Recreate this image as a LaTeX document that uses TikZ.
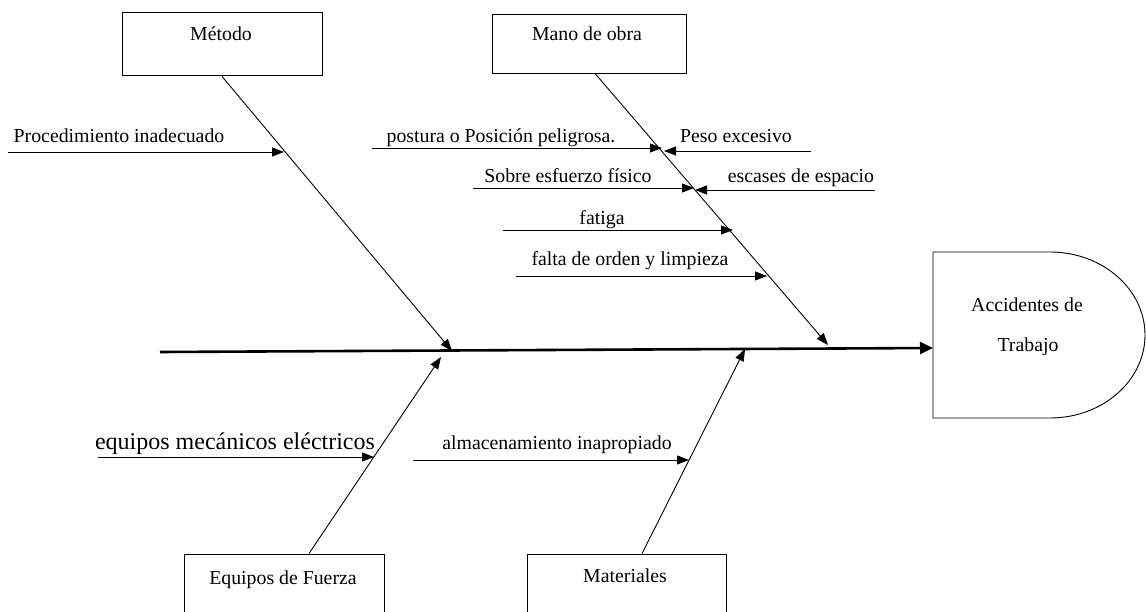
\documentclass[tikz,border=0pt]{standalone}
\usepackage{fontspec}
\setmainfont{Liberation Serif}
\usetikzlibrary{arrows.meta}
\begin{document}
\begin{tikzpicture}[x=1pt,y=-1pt,
  box/.style={draw,line width=0.9pt,rectangle,inner sep=0pt},
  lbl/.style={inner sep=0pt,anchor=base,font=\fontsize{19.8}{22}\selectfont},
  biglbl/.style={inner sep=0pt,anchor=base,font=\fontsize{24}{28}\selectfont},
  bone/.style={line width=0.9pt,-{Triangle[length=12pt,width=9pt]}},
  spine/.style={line width=2.6pt,-{Triangle[length=13pt,width=12pt]}}]
\useasboundingbox (0,0) rectangle (1146,612);
\clip (0,0) rectangle (1146,612);
% boxes
\node[box,minimum width=200pt,minimum height=63pt] (metodo) at (222,43.5) {};
\node[lbl] (metodoT) at (221,41) {Método};
\node[box,minimum width=194pt,minimum height=59pt] (mano) at (589,43.5) {};
\node[lbl] (manoT) at (587,41) {Mano de obra};
\node[box,minimum width=200pt,minimum height=80pt] (equipos) at (284,594) {};
\node[lbl] (equiposT) at (283,584) {Equipos de Fuerza};
\node[box,minimum width=199pt,minimum height=80pt] (mat) at (626.5,594) {};
\node[lbl] (matT) at (625,582) {Materiales};
% effect
\draw[line width=0.9pt] (933,252) coordinate (accA) -- (1050,252)
  arc[start angle=-90,end angle=90,x radius=95,y radius=83] -- (933,418) -- cycle;
\node[lbl] (acc1) at (1027,312) {Accidentes de};
\node[lbl] (acc2) at (1028,352) {Trabajo};
% coordinates
\coordinate (s0) at (160,352); \coordinate (s1) at (933,348);
\coordinate (m1) at (452,351);
\coordinate (n1) at (828,345);
\coordinate (e1) at (441,357);
\coordinate (t1) at (745,349);
\coordinate (pA) at (8,152);   \coordinate (pB) at (284,152);
\coordinate (qA) at (372,148); \coordinate (qB) at (662,148);
\coordinate (rA) at (811,151); \coordinate (rB) at (664,151);
\coordinate (uA) at (473,188); \coordinate (uB) at (694,188);
\coordinate (vA) at (875,190); \coordinate (vB) at (695,190);
\coordinate (wA) at (503,230); \coordinate (wB) at (733,230);
\coordinate (zA) at (516,276); \coordinate (zB) at (767,276);
\coordinate (kA) at (98,457);  \coordinate (kB) at (374,457);
\coordinate (lA) at (413,460); \coordinate (lB) at (689,460);
% spine and bones
\draw[spine] (s0) -- (s1);
\draw[bone] (metodo.south) ++(0,1) -- (m1);
\draw[bone] (mano.south) ++(6,0) -- (n1);
\draw[bone] (equipos.north) ++(25,0) -- (e1);
\draw[bone] (mat.north) ++(15.5,0) -- (t1);
% causes
\draw[bone] (pA) -- (pB);
\node[lbl] (pT) at (119,143) {Procedimiento inadecuado};
\draw[bone] (qA) -- (qB);
\node[lbl] (qT) at (501,143) {postura o Posición peligrosa.};
\draw[bone] (rA) -- (rB);
\node[lbl] (rT) at (736,143) {Peso excesivo};
\draw[bone] (uA) -- (uB);
\node[lbl] (uT) at (568,183) {Sobre esfuerzo físico};
\draw[bone] (vA) -- (vB);
\node[lbl] (vT) at (801,183) {escases de espacio};
\draw[bone] (wA) -- (wB);
\node[lbl] (wT) at (602,225) {fatiga};
\draw[bone] (zA) -- (zB);
\node[lbl] (zT) at (630,266) {falta de orden y limpieza};
\draw[bone] (kA) -- (kB);
\node[biglbl] (kT) at (235,449) {equipos mecánicos eléctricos};
\draw[bone] (lA) -- (lB);
\node[lbl] (lT) at (557,449) {almacenamiento inapropiado};
\end{tikzpicture}
\end{document}
